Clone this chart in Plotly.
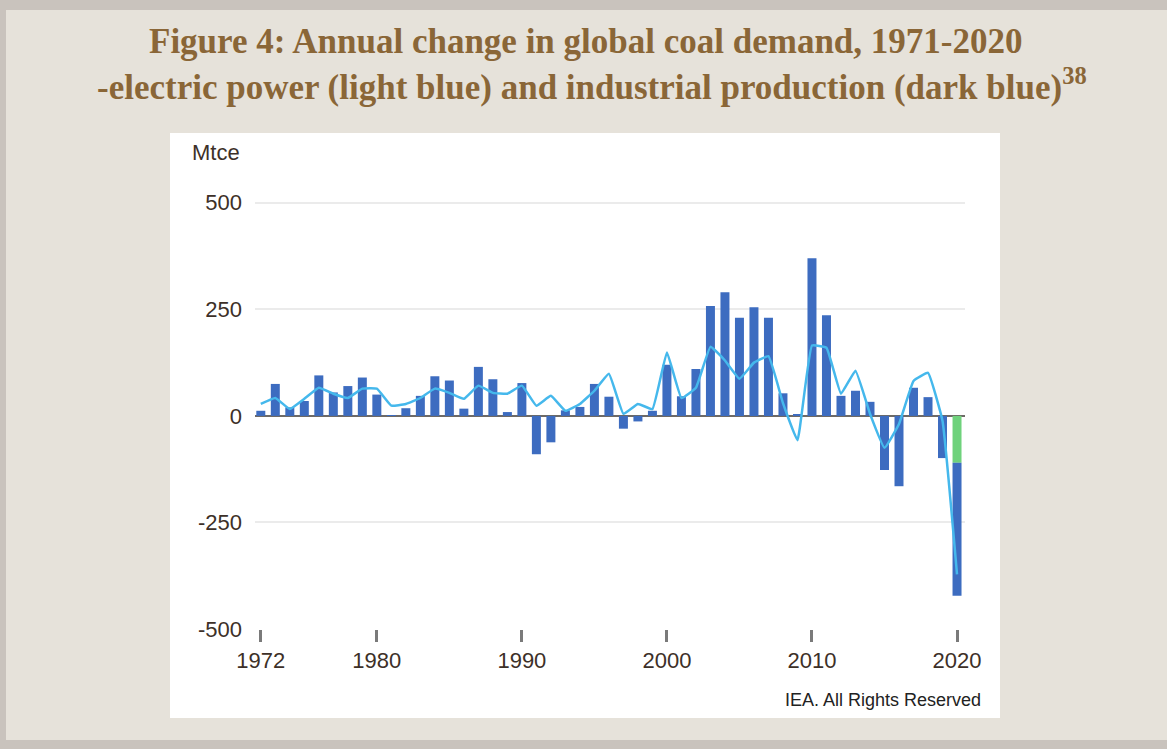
import plotly.graph_objects as go

years = list(range(1972, 2021))

# Dark blue bars (Mtce), 2020 split: dark part below the green segment
dark_blue = [12, 75, 20, 35, 95, 55, 70, 90, 50, 2,
             18, 47, 93, 83, 17, 115, 86, 9, 77, -90,
             -62, 13, 21, 75, 45, -30, -13, 12, 120, 46,
             110, 258, 290, 230, 255, 230, 53, 3, 370, 236,
             47, 59, 33, -127, -165, 66, 44, -99, -312]
green_years = [2020]
green_vals = [-110]

# Light blue line (Mtce)
light_blue = [28, 42, 16, 40, 66, 52, 42, 64, 64, 24,
              28, 42, 64, 54, 40, 71, 54, 52, 71, 24,
              47, 12, 28, 59, 99, 5, 28, 16, 149, 42,
              66, 162, 130, 87, 125, 140, 30, -57, 165, 160,
              52, 106, 5, -75, -19, 82, 101, -12, -372]

x_ticks = [1972, 1980, 1990, 2000, 2010, 2020]
y_ticks = [-500, -250, 0, 250, 500]
y_tick_text = ["-500", "-250", "0", "250", "500"]

W, H = 1167, 749
L, R, T, B = 255, 965, 190, 629


def px(x):
    return (x - L) / (R - L)


def py(y):
    return (B - y) / (B - T)


fig = go.Figure()
fig.add_trace(go.Bar(x=green_years, y=green_vals, marker_color="#6fd27c",
                     marker_line_width=0, width=0.62, showlegend=False))
fig.add_trace(go.Bar(x=years, y=dark_blue, marker_color="#3d6cc0",
                     marker_line_width=0, width=0.62, showlegend=False))
fig.add_trace(go.Scatter(x=years, y=light_blue, mode="lines",
                         line=dict(color="#45b8ec", width=2.5, shape="spline", smoothing=0.3),
                         showlegend=False))

shapes = [
    dict(type="rect", xref="paper", yref="paper", layer="below",
         x0=px(6), x1=px(W + 5), y0=py(740), y1=py(10),
         fillcolor="#e6e2da", line_width=0),
    dict(type="rect", xref="paper", yref="paper", layer="below",
         x0=px(170), x1=px(1000), y0=py(718), y1=py(133),
         fillcolor="#ffffff", line_width=0),
]

title_font = dict(family="Liberation Serif", size=35, color="#8a6637")
annotations = [
    dict(text="<b>Figure 4: Annual change in global coal demand, 1971-2020</b>",
         xref="paper", yref="paper", x=px(585), y=py(42), showarrow=False,
         xanchor="center", yanchor="middle", font=title_font),
    dict(text="<b>-electric power (light blue) and industrial production (dark blue)<sup>38</sup></b>",
         xref="paper", yref="paper", x=px(592), y=py(84), showarrow=False,
         xanchor="center", yanchor="middle", font=title_font),
    dict(text="Mtce", xref="paper", yref="paper", x=px(242), y=py(152),
         showarrow=False, xanchor="right", yanchor="middle",
         font=dict(family="Liberation Sans", size=22, color="#3d3028")),
    dict(text="IEA. All Rights Reserved", xref="paper", yref="paper",
         x=px(983), y=py(700), showarrow=False, xanchor="right", yanchor="middle",
         font=dict(family="Liberation Sans", size=18, color="#222222")),
]

fig.update_layout(
    width=W, height=H,
    margin=dict(l=L, r=W - R, t=T, b=H - B, pad=0),
    paper_bgcolor="#c9c3bd",
    plot_bgcolor="#ffffff",
    barmode="relative",
    bargap=0.38,
    shapes=shapes,
    annotations=annotations,
    xaxis=dict(range=[1971.6, 2020.55], tickvals=x_ticks, showgrid=False,
               zeroline=False, showline=False, ticks="outside", ticklen=12,
               tickwidth=3, tickcolor="#7a7a7a",
               tickfont=dict(family="Liberation Sans", size=22, color="#3d3028")),
    yaxis=dict(range=[-500, 530], tickvals=y_ticks, ticktext=y_tick_text,
               showgrid=True, gridcolor="#ebebeb", gridwidth=2, zeroline=True,
               zerolinecolor="#6e6a66", zerolinewidth=2, showline=False,
               ticks="", ticklabelstandoff=12,
               tickfont=dict(family="Liberation Sans", size=22, color="#3d3028")),
)

fig.write_html("out.html",
               config={"displayModeBar": False},
               post_script="document.body.style.margin='0px';document.body.style.padding='0px';")
